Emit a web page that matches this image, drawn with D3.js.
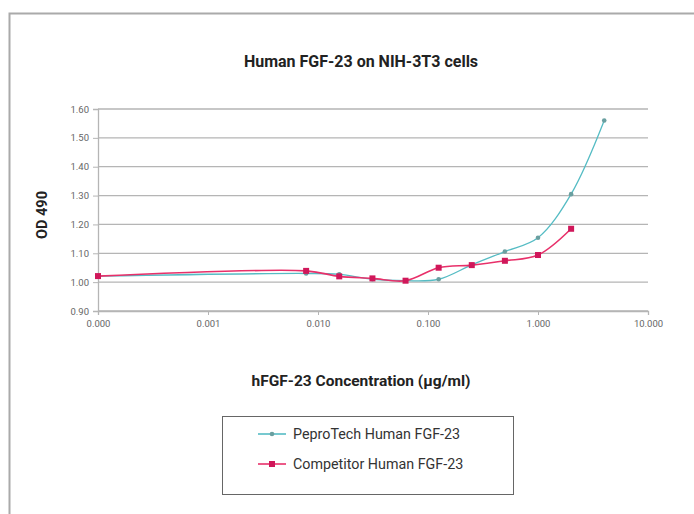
<!DOCTYPE html>
<html><head><meta charset="utf-8">
<script src="https://cdn.jsdelivr.net/npm/d3@7"></script>
<style>body{margin:0;background:#fff;}svg{display:block;font-family:Roboto,"Liberation Sans",sans-serif;}</style>
</head><body><svg id="c" width="694" height="514"></svg>
<script>
// concentrations (µg/ml); 0 is drawn at the axis origin 0.0001 (labelled 0.000)
const concentrations = [0.0001, 0.0078, 0.0156, 0.03125, 0.0625, 0.125, 0.25, 0.5, 1, 2, 4];
const peproTech = [1.021, 1.030, 1.027, 1.010, 1.005, 1.010, 1.060, 1.106, 1.154, 1.305, 1.560];
const competitorConc = [0.0001, 0.0078, 0.0156, 0.03125, 0.0625, 0.125, 0.25, 0.5, 1, 2];
const competitor = [1.021, 1.039, 1.020, 1.013, 1.005, 1.050, 1.059, 1.074, 1.094, 1.185];
const xTicks = [0.0001, 0.001, 0.01, 0.1, 1, 10];
const xTickLabels = ["0.000", "0.001", "0.010", "0.100", "1.000", "10.000"];
const yTicks = [0.9, 1.0, 1.1, 1.2, 1.3, 1.4, 1.5, 1.6];

const svg = d3.select("#c");
// outer frame
svg.append("path").attr("d","M9.5,520 L9.5,13.5 L700,13.5").attr("fill","none").attr("stroke","#aaa").attr("stroke-width",2);

const x = d3.scaleLog().domain([0.0001, 10]).range([98, 648]);
const y = d3.scaleLinear().domain([0.9, 1.6]).range([311, 109]);

// gridlines
svg.append("g").selectAll("line").data(yTicks).join("line")
  .attr("x1",98).attr("x2",648).attr("y1",d=>y(d)).attr("y2",d=>y(d))
  .attr("stroke","#b5b5b5").attr("stroke-width",1.3);

// y axis
const yAxis = d3.axisLeft(y).tickValues(yTicks).tickFormat(d3.format(".2f")).tickSize(5).tickPadding(4);
const gy = svg.append("g").attr("transform","translate(98,0)").call(yAxis);
gy.select(".domain").attr("stroke","#b5b5b5").attr("stroke-width",1.3).attr("d","M-5,109.5H0.5V311.5H-5");
gy.selectAll(".tick line").attr("stroke","#b5b5b5");
gy.selectAll(".tick text").attr("fill","#666").style("font-size","9.5px").style("font-family","Roboto");

// x axis
const xAxis = d3.axisBottom(x).tickValues(xTicks).tickFormat((d,i)=>xTickLabels[i]).tickSize(4).tickPadding(5);
const gx = svg.append("g").attr("transform","translate(0,311)").call(xAxis);
gx.select(".domain").attr("stroke","#b5b5b5").attr("stroke-width",1.3);
gx.selectAll(".tick line").attr("stroke","#b5b5b5");
gx.selectAll(".tick text").attr("fill","#666").style("font-size","9.5px").style("font-family","Roboto");

// lines
const line = d3.line().x(d=>x(d[0])).y(d=>y(d[1])).curve(d3.curveCatmullRom.alpha(0.5));
const pData = concentrations.map((c,i)=>[c, peproTech[i]]);
const cData = competitorConc.map((c,i)=>[c, competitor[i]]);

svg.append("path").datum(pData).attr("d",line).attr("fill","none").attr("stroke","#55bcc4").attr("stroke-width",1.3);
svg.append("g").selectAll("circle").data(pData).join("circle")
  .attr("cx",d=>x(d[0])).attr("cy",d=>y(d[1])).attr("r",2.3)
  .attr("fill","#6a9fa0");
svg.append("path").datum(cData).attr("d",line).attr("fill","none").attr("stroke","#e8306a").attr("stroke-width",1.6);
svg.append("g").selectAll("rect").data(cData).join("rect")
  .attr("x",d=>x(d[0])-3).attr("y",d=>y(d[1])-3).attr("width",6).attr("height",6)
  .attr("fill","#d0175a");

// titles
svg.append("text").attr("x",361).attr("y",67).attr("text-anchor","middle")
  .style("font-size","16px").style("font-weight","bold").attr("fill","#222").text("Human FGF-23 on NIH-3T3 cells");
svg.append("text").attr("transform","translate(47,215) rotate(-90)").attr("text-anchor","middle")
  .style("font-size","14.5px").style("font-weight","bold").attr("fill","#222").text("OD 490");
svg.append("text").attr("x",361).attr("y",386).attr("text-anchor","middle")
  .style("font-size","15.5px").style("font-weight","bold").attr("fill","#222").text("hFGF-23 Concentration (µg/ml)");

// legend
svg.append("rect").attr("x",222.5).attr("y",416.5).attr("width",291).attr("height",78)
  .attr("fill","#fff").attr("stroke","#666").attr("stroke-width",1);
const legend = [
  {name:"PeproTech Human FGF-23", color:"#55bcc4", mk:"circle", mc:"#6a9fa0", ly:434},
  {name:"Competitor Human FGF-23", color:"#e8306a", mk:"rect", mc:"#d0175a", ly:464}
];
legend.forEach(l=>{
  svg.append("line").attr("x1",258).attr("x2",286).attr("y1",l.ly).attr("y2",l.ly).attr("stroke",l.color).attr("stroke-width",1.6);
  if(l.mk==="circle") svg.append("circle").attr("cx",272).attr("cy",l.ly).attr("r",2.3).attr("fill",l.mc);
  else svg.append("rect").attr("x",269).attr("y",l.ly-3).attr("width",6).attr("height",6).attr("fill",l.mc);
  svg.append("text").attr("x",293).attr("y",l.ly+5).style("font-size","14.3px").attr("fill","#333").text(l.name);
});
</script></body></html>
